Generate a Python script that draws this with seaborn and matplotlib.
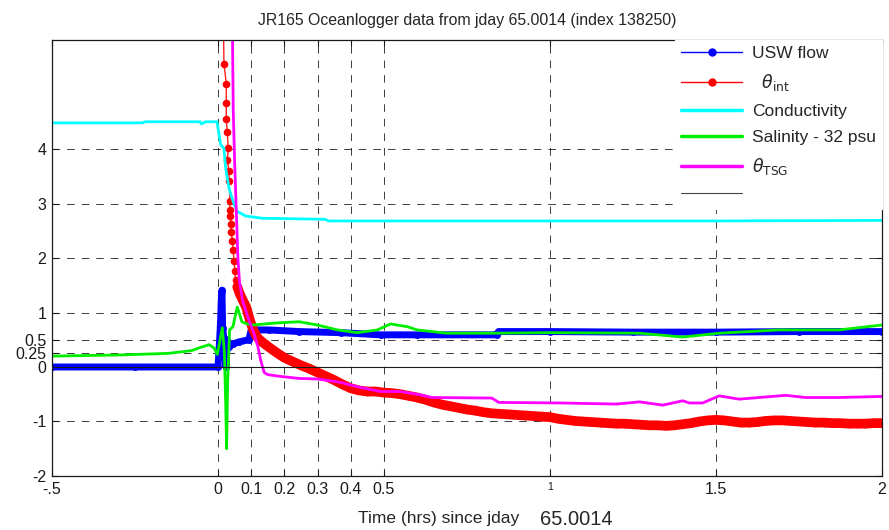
import matplotlib.pyplot as plt
from matplotlib.lines import Line2D
import seaborn as sns

# time in hours since jday 65.0014
flow_t = [-0.5, -0.25, 0.0, 0.005, 0.008, 0.010, 0.012, 0.014, 0.018, 0.024, 0.028, 0.033,
          0.045, 0.063, 0.093, 0.100, 0.154, 0.245, 0.370, 0.490, 0.600, 0.840, 0.845,
          1.0, 1.25, 1.5, 1.75, 2.0]
flow_v = [0, 0, 0, 0.5, 0.86, 1.25, 1.41, 0.72, 0.5, 0.0, 0.5, 0.37,
          0.42, 0.46, 0.5, 0.68, 0.68, 0.65, 0.63, 0.59, 0.59, 0.59, 0.65,
          0.65, 0.64, 0.64, 0.65, 0.65]

# theta_int: spike (separate dots) then dense noisy band
int_t = [0.016, 0.018, 0.025, 0.025, 0.025, 0.028, 0.031, 0.028, 0.033, 0.033, 0.036, 0.036,
         0.036, 0.040, 0.040, 0.043, 0.046, 0.048, 0.051, 0.053, 0.058,
         0.065, 0.075, 0.085, 0.095, 0.105, 0.115, 0.125, 0.135, 0.15, 0.175,
         0.2, 0.225, 0.25, 0.275, 0.3, 0.325, 0.35, 0.375, 0.4, 0.425,
         0.45, 0.475, 0.5, 0.525, 0.55, 0.575, 0.6, 0.625, 0.65, 0.675,
         0.7, 0.725, 0.75, 0.775, 0.8, 0.825, 0.85, 0.875, 0.9, 0.925,
         0.95, 0.975, 1.0, 1.025, 1.05, 1.075, 1.1, 1.125, 1.15, 1.175,
         1.2, 1.225, 1.25, 1.275, 1.3, 1.325, 1.35, 1.375, 1.4, 1.425,
         1.45, 1.475, 1.5, 1.525, 1.55, 1.575, 1.6, 1.625, 1.65, 1.675,
         1.7, 1.725, 1.75, 1.775, 1.8, 1.825, 1.85, 1.875, 1.9, 1.925,
         1.95, 1.975, 2.0]
int_v = [6.5, 5.56, 5.2, 4.85, 4.55, 4.31, 4.01, 3.8, 3.6, 3.41, 3.05, 2.89,
         2.77, 2.62, 2.48, 2.32, 2.14, 1.95, 1.77, 1.59, 1.47,
         1.35, 1.22, 1.1, 0.88, 0.7, 0.57, 0.5, 0.45, 0.38, 0.27,
         0.17, 0.1, 0.03, -0.03, -0.1, -0.17, -0.24, -0.32, -0.39, -0.43,
         -0.45, -0.45, -0.47, -0.48, -0.5, -0.53, -0.56, -0.6, -0.65, -0.69,
         -0.72, -0.75, -0.78, -0.8, -0.83, -0.85, -0.86, -0.87, -0.88, -0.89,
         -0.9, -0.91, -0.92, -0.95, -0.97, -0.99, -1.0, -1.01, -1.02, -1.03,
         -1.04, -1.04, -1.05, -1.06, -1.07, -1.07, -1.08, -1.07, -1.05, -1.03,
         -1.0, -0.98, -0.97, -0.98, -1.0, -1.02, -1.02, -1.01, -0.99, -0.98,
         -0.98, -0.99, -1.0, -1.01, -1.02, -1.02, -1.03, -1.03, -1.04, -1.04,
         -1.04, -1.03, -1.03]
int_band_start = 20   # from here on the samples are so dense they form a thick band

cond_t = [-0.5, -0.226, -0.22, -0.054, -0.05, -0.037, -0.003, 0.008, 0.018, 0.023,
          0.033, 0.042, 0.057, 0.083, 0.132, 0.323, 0.333, 1.0, 1.5, 2.0]
cond_v = [4.48, 4.48, 4.5, 4.5, 4.46, 4.5, 4.5, 4.08, 4.01, 3.65,
          3.29, 3.1, 2.86, 2.77, 2.73, 2.71, 2.68, 2.68, 2.68, 2.69]

# salinity minus 32 psu
sal_t = [-0.5, -0.3, -0.15, -0.08, -0.057, -0.027, -0.012, -0.002, 0.013, 0.019,
         0.023, 0.026, 0.029, 0.035, 0.045, 0.058, 0.072, 0.083, 0.103, 0.18,
         0.245, 0.3, 0.36, 0.42, 0.48, 0.52, 0.57, 0.6, 0.69, 0.84,
         1.0, 1.27, 1.4, 1.51, 1.69, 1.87, 2.0]
sal_v = [0.2, 0.22, 0.25, 0.3, 0.35, 0.41, 0.35, 0.23, 0.72, 0.3,
         -0.6, -1.5, -0.3, 0.68, 0.74, 1.1, 0.83, 0.8, 0.77, 0.81,
         0.83, 0.77, 0.68, 0.63, 0.68, 0.79, 0.74, 0.68, 0.62, 0.62,
         0.63, 0.62, 0.55, 0.62, 0.68, 0.68, 0.77]

tsg_t = [0.043, 0.046, 0.050, 0.055, 0.060, 0.065, 0.075, 0.093, 0.108, 0.120,
         0.128, 0.139, 0.150, 0.184, 0.245, 0.300, 0.367, 0.425, 0.490, 0.548,
         0.600, 0.645, 0.825, 0.846, 1.03, 1.20, 1.27, 1.34, 1.40, 1.42,
         1.46, 1.51, 1.57, 1.63, 1.71, 1.77, 1.87, 2.0]
tsg_v = [6.5, 4.7, 3.8, 2.9, 2.0, 1.54, 1.2, 0.86, 0.62, 0.38,
         0.14, -0.1, -0.14, -0.17, -0.21, -0.22, -0.28, -0.37, -0.45, -0.45,
         -0.5, -0.56, -0.57, -0.65, -0.66, -0.68, -0.64, -0.7, -0.62, -0.66,
         -0.66, -0.53, -0.59, -0.56, -0.52, -0.56, -0.56, -0.54]

zero_level = 0

xticks = [-0.5, 0, 0.1, 0.2, 0.3, 0.4, 0.5, 1, 1.5, 2]
xticklabels = ['-.5', '0', '0.1', '0.2', '0.3', '0.4', '0.5', '1', '1.5', '2']
yticks = [-2, -1, 0, 0.25, 0.5, 1, 2, 3, 4]
yticklabels = ['-2', '-1', '0', '0.25', '0.5', '1', '2', '3', '4']

sns.set_theme(style="white")
plt.rcParams['font.family'] = ['Liberation Sans', 'DejaVu Sans']
plt.rcParams['mathtext.fontset'] = 'dejavusans'
plt.rcParams['lines.scale_dashes'] = False

fig, ax = plt.subplots(figsize=(8.89, 5.30), dpi=100)
fig.subplots_adjust(left=0.0585, right=0.992, top=0.9245, bottom=0.1019)

common = dict(ax=ax, estimator=None, sort=False, legend=False)
sns.lineplot(x=flow_t, y=flow_v, color='#0000ff', lw=5, marker='o', ms=5,
             mec='#0000ff', mew=0, **common)
sns.lineplot(x=int_t, y=int_v, color='#ff2020', lw=1, marker='o', ms=5.5,
             mec='#ff0000', mfc='#ff0000', mew=0, **common)
sns.lineplot(x=int_t[int_band_start:], y=int_v[int_band_start:], color='#ff0000',
             lw=7, solid_capstyle='round', **common)
sns.lineplot(x=cond_t, y=cond_v, color='#00ffff', lw=2, **common)
sns.lineplot(x=sal_t, y=sal_v, color='#00ee00', lw=2, **common)
sns.lineplot(x=tsg_t, y=tsg_v, color='#ff00ff', lw=2, **common)
ax.axhline(zero_level, color='k', lw=0.8, zorder=10)

ax.set_xlim(-0.5, 2)
ax.set_ylim(-2, 6)
ax.set_xticks(xticks)
ax.set_xticklabels(xticklabels)
ax.set_yticks(yticks)
ax.set_yticklabels(yticklabels)
for lab in ax.get_xticklabels():
    lab.set_fontsize(7.5 if lab.get_text() == '1' else 11.5)
ax.tick_params(axis='y', labelsize=11.5)
ax.tick_params(direction='in', length=4, width=0.8, color='k', pad=4,
               top=True, right=True, bottom=True, left=True, labelcolor='k')
ax.grid(True, linestyle=(0, (5.5, 5)), color='k', lw=0.7, alpha=0.85)
ax.set_axisbelow(True)
for sp in ax.spines.values():
    sp.set_color('k')
    sp.set_linewidth(0.9)
ax.set_xlabel('')
ax.set_ylabel('')

ax.set_title('JR165 Oceanlogger data from jday 65.0014 (index 138250)', fontsize=11.4, pad=11)
fig.text(0.4027, 0.0226, 'Time (hrs) since jday', fontsize=12.5, va='center', ha='left')
fig.text(0.6074, 0.0206, '65.0014', fontsize=14.5, va='center', ha='left', zorder=5,
         bbox=dict(facecolor='white', edgecolor='none', pad=0.5))

handles = [
    Line2D([], [], color='#0000ff', lw=1, marker='o', ms=5),
    Line2D([], [], color='#ff0000', lw=1, marker='o', ms=5),
    Line2D([], [], color='#00ffff', lw=2.5),
    Line2D([], [], color='#00ee00', lw=2.5),
    Line2D([], [], color='#ff00ff', lw=2.5),
    Line2D([], [], color='#444444', lw=0.8),
]
labels = ['USW flow', r'  $\theta_{\rm int}$', 'Conductivity', 'Salinity - 32 psu',
          r'$\theta_{\rm TSG}$', '']
leg = ax.legend(handles, labels, loc='upper right', fontsize=12.5, handlelength=3.5,
                handletextpad=0.55, labelspacing=0.62, borderaxespad=0, borderpad=0.35,
                frameon=True, fancybox=False, framealpha=1, facecolor='white',
                edgecolor='white')
leg.set_zorder(20)

fig.savefig('out.png', dpi=100)
